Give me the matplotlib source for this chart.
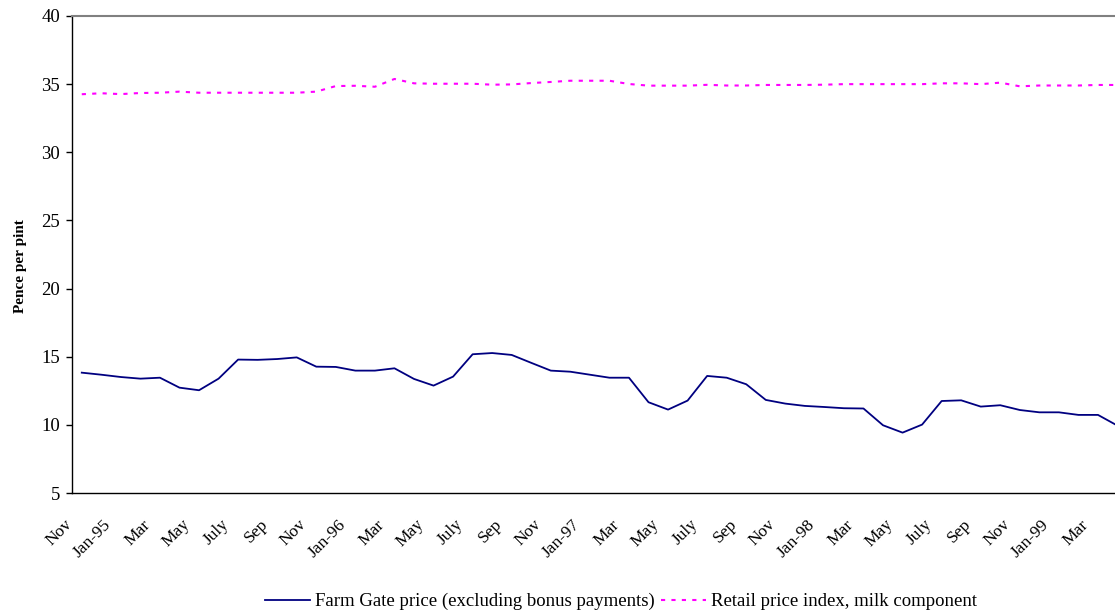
import matplotlib
matplotlib.use("Agg")
import matplotlib.pyplot as plt
import matplotlib.transforms as mtransforms

# Monthly data, Nov 1994 to Apr 1999 (pence per pint)
farm_gate = [13.83, 13.68, 13.51, 13.39, 13.46, 12.73, 12.54, 13.39, 14.79, 14.77,
             14.83, 14.95, 14.27, 14.25, 13.98, 13.98, 14.15, 13.37, 12.88, 13.54,
             15.18, 15.27, 15.13, 14.55, 13.98, 13.90, 13.68, 13.46, 13.46, 11.66,
             11.12, 11.78, 13.59, 13.46, 12.98, 11.83, 11.56, 11.39, 11.31, 11.22,
             11.20, 9.97, 9.43, 10.02, 11.75, 11.80, 11.34, 11.44, 11.09, 10.92,
             10.92, 10.73, 10.73, 9.94]
retail_index = [34.26, 34.33, 34.27, 34.35, 34.37, 34.45, 34.37, 34.37, 34.37, 34.37,
                34.37, 34.37, 34.45, 34.86, 34.88, 34.81, 35.38, 35.06, 35.03, 35.03,
                35.03, 34.96, 34.98, 35.08, 35.16, 35.25, 35.25, 35.25, 35.01, 34.89,
                34.89, 34.89, 34.95, 34.90, 34.90, 34.94, 34.94, 34.94, 34.96, 35.00,
                35.00, 35.00, 35.00, 35.00, 35.06, 35.06, 35.00, 35.11, 34.84, 34.90,
                34.90, 34.90, 34.94, 34.94]
month_labels = ['Nov', 'Jan-95', 'Mar', 'May', 'July', 'Sep', 'Nov', 'Jan-96', 'Mar',
                'May', 'July', 'Sep', 'Nov', 'Jan-97', 'Mar', 'May', 'July', 'Sep',
                'Nov', 'Jan-98', 'Mar', 'May', 'July', 'Sep', 'Nov', 'Jan-99', 'Mar']

plt.rcParams['font.family'] = ['Liberation Serif', 'DejaVu Serif']

fig = plt.figure(figsize=(11.15, 6.11), dpi=100)
ax = fig.add_axes([72 / 1115, 1 - 493 / 611, 1 - 72 / 1115, (493 - 16) / 611])

x = list(range(len(farm_gate)))
ax.plot(x, farm_gate, color='#000080', lw=1.3,
        label='Farm Gate price (excluding bonus payments)')
ax.plot(x, retail_index, color='#FF00FF', lw=1.5, linestyle=(0, (2, 3)),
        label='Retail price index, milk component')

ax.set_xlim(-0.5, 52.87)
ax.set_ylim(5, 40)
ax.set_yticks(range(5, 41, 5))
ax.tick_params(axis='y', labelsize=13.5, length=4.5, width=1, pad=4, color='black')

ax.set_xticks(range(0, len(farm_gate), 2))
ax.set_xticklabels(month_labels)
ax.tick_params(axis='x', length=0, pad=21, labelsize=12.5)
offset = mtransforms.ScaledTranslation(-12 / 100, 0, fig.dpi_scale_trans)
for lbl in ax.get_xticklabels():
    lbl.set_rotation(45)
    lbl.set_ha('right')
    lbl.set_va('center')
    lbl.set_rotation_mode('anchor')
    lbl.set_transform(lbl.get_transform() + offset)

ax.set_ylabel('Pence per pint', fontsize=11, fontweight='bold')
ax.yaxis.set_label_coords(-0.043, 0.476)

ax.spines['right'].set_visible(False)
ax.spines['top'].set_color('#808080')
ax.spines['top'].set_linewidth(1.5)
ax.spines['left'].set_linewidth(1)
ax.spines['bottom'].set_linewidth(1)

fig.legend(loc='center', bbox_to_anchor=(0.557, 0.015), ncol=2, frameon=False,
           fontsize=13.5, handlelength=2.4, handletextpad=0.3, columnspacing=0.3,
           borderaxespad=0)

fig.savefig('out.png', dpi=100)
